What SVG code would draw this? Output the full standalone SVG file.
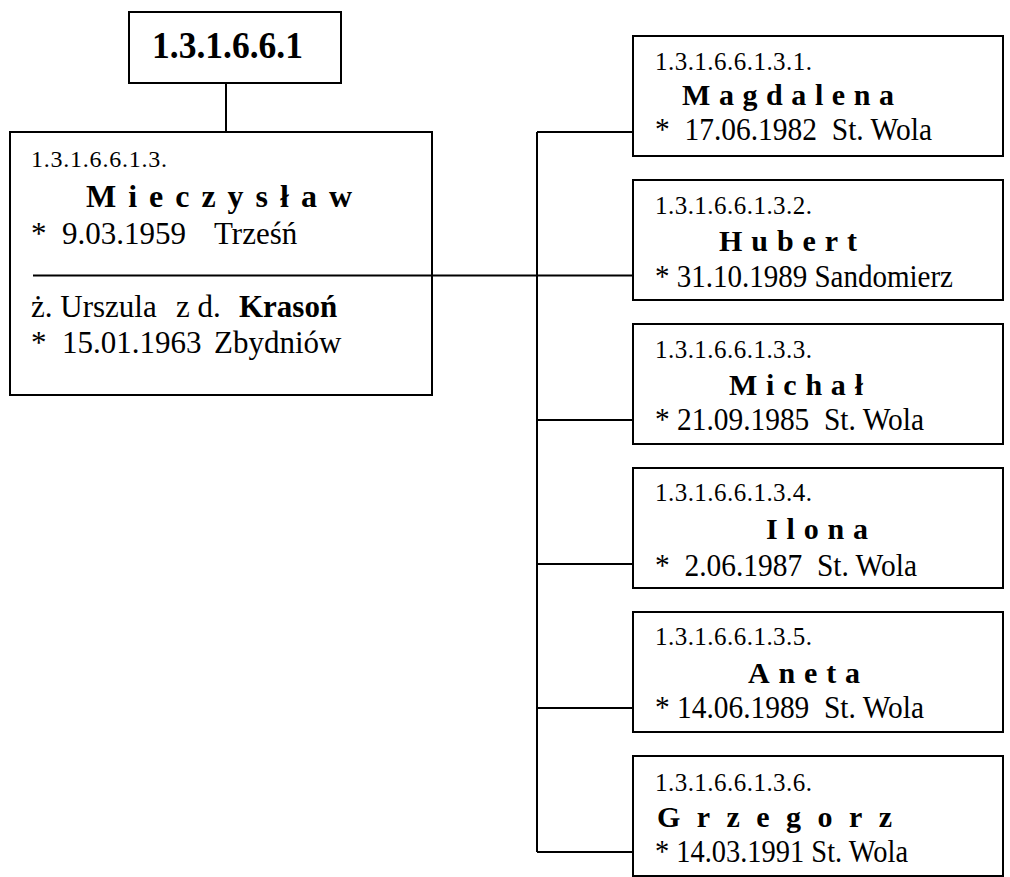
<svg xmlns="http://www.w3.org/2000/svg" width="1010" height="877" viewBox="0 0 1010 877">
<style>
.box{fill:#fff;stroke:#000;stroke-width:2}
.ln{fill:none;stroke:#000;stroke-width:2}
text{font-family:"Liberation Serif","Times New Roman",serif;fill:#000}
.top{font-size:38px;font-weight:bold}
.num{font-size:25px}
.mnum{font-size:24px}
.nm{font-size:30px;font-weight:bold}
.mnm{font-size:32px;font-weight:bold}
.dt{font-size:30.5px}
.mdt{font-size:31px}
.b{font-weight:bold}
</style>
<rect width="1010" height="877" fill="#fff"/>
<g id="connectors">
<path class="ln" d="M226 83V132"/>
<path class="ln" d="M432 275.5H537"/>
<path class="ln" d="M537 132V852"/>
<path class="ln" d="M537 132H633M537 275.5H633M537 420H633M537 564H633M537 708H633M537 852H633"/>
</g>
<g id="n-root">
<rect class="box" x="129" y="12" width="212" height="71"/>
<text class="top" x="152" y="58" textLength="151" lengthAdjust="spacingAndGlyphs">1.3.1.6.6.1</text>
</g>
<g id="n-mieczyslaw">
<rect class="box" x="10" y="132" width="422" height="263"/>
<path class="ln" d="M33 275.5H432"/>
<text class="mnum" x="31" y="167" textLength="136" lengthAdjust="spacing">1.3.1.6.6.1.3.</text>
<text class="mnm" x="86" y="207" textLength="266" lengthAdjust="spacing">Mieczysław</text>
<text class="mdt" y="244"><tspan x="31">* </tspan><tspan x="62">9.03.1959 </tspan><tspan x="214">Trześń</tspan></text>
<text class="mdt" y="317"><tspan x="31">ż. Urszula </tspan><tspan x="176">z d. </tspan><tspan x="239" class="b">Krasoń</tspan></text>
<text class="mdt" y="353"><tspan x="31">* </tspan><tspan x="62">15.01.1963 </tspan><tspan x="214">Zbydniów</tspan></text>
</g>
<g id="n-magdalena">
<rect class="box" x="633" y="36" width="370" height="120"/>
<text class="num" x="655" y="70" textLength="157" lengthAdjust="spacing">1.3.1.6.6.1.3.1.</text>
<text class="nm" x="682" y="105" textLength="212" lengthAdjust="spacing">Magdalena</text>
<text class="dt" x="655" y="140" xml:space="preserve" textLength="277" lengthAdjust="spacingAndGlyphs">*  17.06.1982  St. Wola</text>
</g>
<g id="n-hubert">
<rect class="box" x="633" y="180" width="370" height="120"/>
<text class="num" x="655" y="214" textLength="157" lengthAdjust="spacing">1.3.1.6.6.1.3.2.</text>
<text class="nm" x="719" y="251" textLength="138" lengthAdjust="spacing">Hubert</text>
<text class="dt" x="655" y="287" xml:space="preserve" textLength="298" lengthAdjust="spacingAndGlyphs">* 31.10.1989 Sandomierz</text>
</g>
<g id="n-michal">
<rect class="box" x="633" y="324" width="370" height="120"/>
<text class="num" x="655" y="358" textLength="157" lengthAdjust="spacing">1.3.1.6.6.1.3.3.</text>
<text class="nm" x="729" y="395" textLength="134" lengthAdjust="spacing">Michał</text>
<text class="dt" x="655" y="430" xml:space="preserve" textLength="269" lengthAdjust="spacingAndGlyphs">* 21.09.1985  St. Wola</text>
</g>
<g id="n-ilona">
<rect class="box" x="633" y="468" width="370" height="120"/>
<text class="num" x="655" y="501" textLength="157" lengthAdjust="spacing">1.3.1.6.6.1.3.4.</text>
<text class="nm" x="766" y="539" textLength="102" lengthAdjust="spacing">Ilona</text>
<text class="dt" x="655" y="576" xml:space="preserve" textLength="262" lengthAdjust="spacingAndGlyphs">*  2.06.1987  St. Wola</text>
</g>
<g id="n-aneta">
<rect class="box" x="633" y="612" width="370" height="120"/>
<text class="num" x="655" y="645" textLength="157" lengthAdjust="spacing">1.3.1.6.6.1.3.5.</text>
<text class="nm" x="748" y="683" textLength="112" lengthAdjust="spacing">Aneta</text>
<text class="dt" x="655" y="718" xml:space="preserve" textLength="269" lengthAdjust="spacingAndGlyphs">* 14.06.1989  St. Wola</text>
</g>
<g id="n-grzegorz">
<rect class="box" x="633" y="756" width="370" height="120"/>
<text class="num" x="655" y="791" textLength="157" lengthAdjust="spacing">1.3.1.6.6.1.3.6.</text>
<text class="nm" x="657" y="827" textLength="235" lengthAdjust="spacing">Grzegorz</text>
<text class="dt" x="655" y="862" xml:space="preserve" textLength="253" lengthAdjust="spacingAndGlyphs">* 14.03.1991 St. Wola</text>
</g>
</svg>
